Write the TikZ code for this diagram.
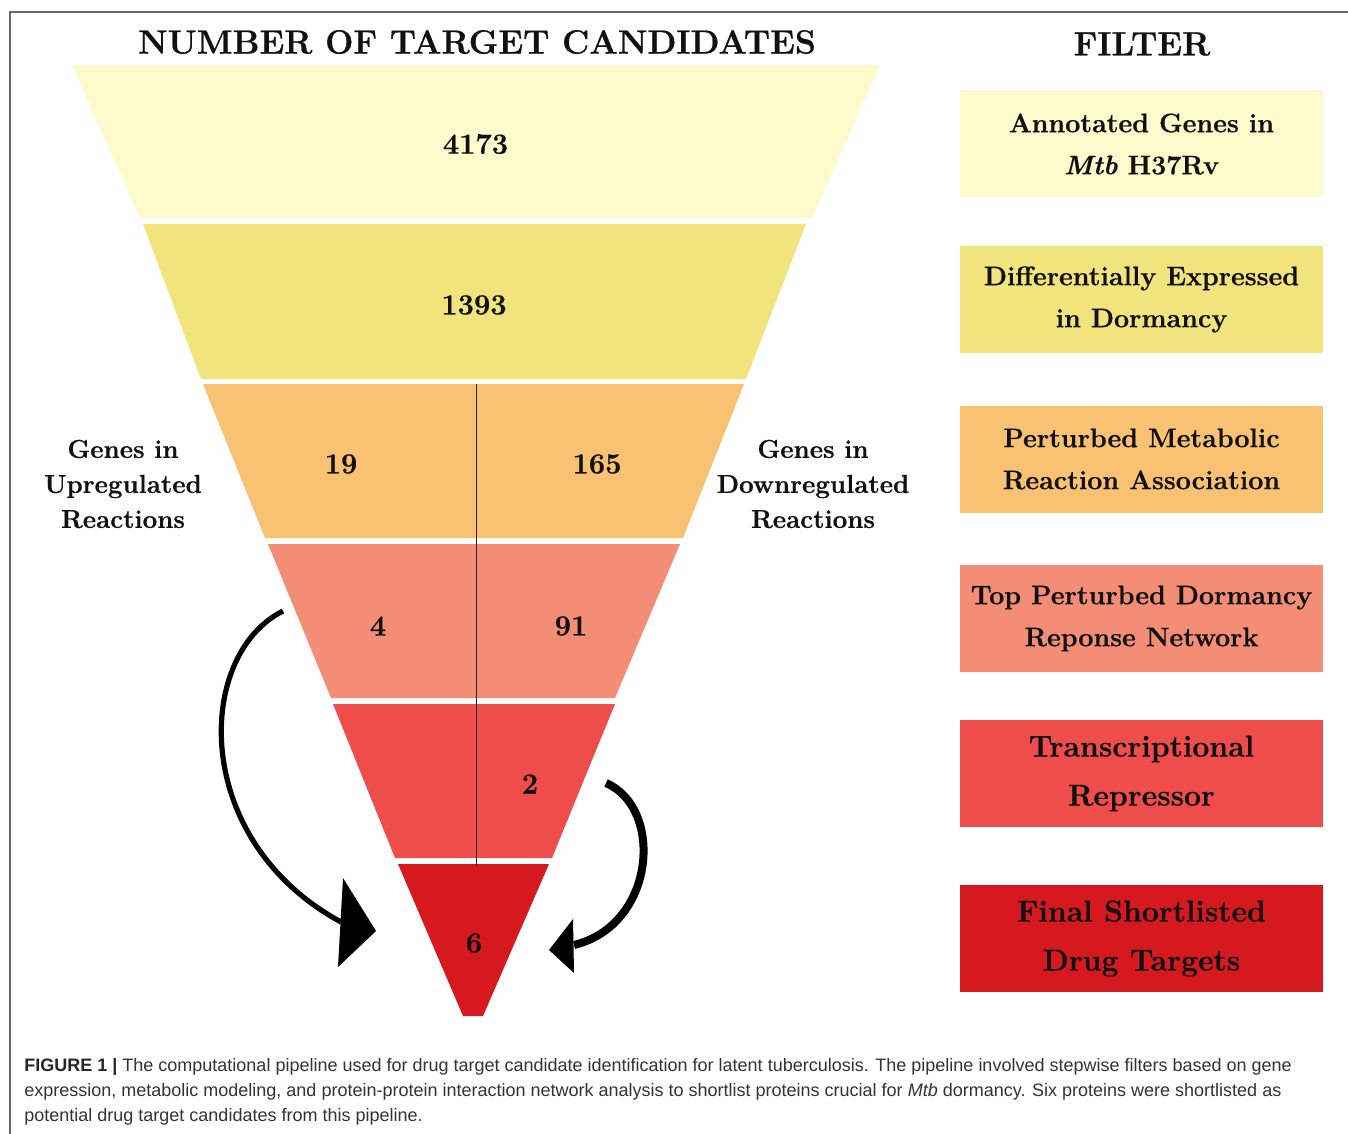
\documentclass[tikz,border=0pt]{standalone}
\usepackage{fontspec}
\setmainfont{Latin Modern Roman}[BoldFeatures={FakeBold=0.6},BoldItalicFeatures={FakeBold=0.6}]
\newfontfamily\capfont{Liberation Sans}
\definecolor{lvA}{HTML}{FDFACB}
\definecolor{lvB}{HTML}{F2E47C}
\definecolor{lvC}{HTML}{F9C272}
\definecolor{lvD}{HTML}{F38D76}
\definecolor{lvE}{HTML}{EF4D4B}
\definecolor{lvF}{HTML}{D5191F}
\definecolor{framegray}{HTML}{666666}
\definecolor{captext}{HTML}{333333}
\definecolor{ink}{HTML}{111111}
\begin{document}
\begin{tikzpicture}[x=0.5pt,y=-0.5pt,
  heading/.style={text=ink,font=\fontsize{16.8}{19}\selectfont\bfseries,inner sep=0pt},
  count/.style={text=ink,font=\fontsize{14.5}{17}\selectfont\bfseries,inner sep=0pt},
  sidelabel/.style={text=ink,align=center,font=\fontsize{12.95}{17.5}\selectfont\bfseries,inner sep=0pt},
  filterbox/.style={minimum width=181.5pt,minimum height=53.5pt,inner sep=0pt,align=center,text=ink,
    font=\fontsize{13.4}{21}\selectfont\bfseries},
  bigfilter/.style={filterbox,font=\fontsize{15.1}{24.5}\selectfont\bfseries},
  captionline/.style={anchor=base west,inner sep=0pt,text=captext,font=\capfont\fontsize{9}{12.5}\selectfont},
  shaft/.style={draw=black,line cap=butt},
  head/.style={fill=black}]
\useasboundingbox (0,0) rectangle (1348,1134);
\fill[white] (0,0) rectangle (1348,1134);

% frame of the figure panel
\draw[framegray,line width=0.8pt] (10,1134) -- (10,12) -- (1348,12);

% headings
\node[heading] (hcount) at (477,42) {NUMBER OF TARGET CANDIDATES};
\node[heading] (hfilter) at (1142,44) {FILTER};

% funnel levels
\fill[lvA] (72,65) -- (880,65) -- (812,218) -- (140,218) -- cycle;
\fill[lvB] (143,224) -- (806,224) -- (746,379) -- (201,379) -- cycle;
\fill[lvC] (203,384) -- (744,384) -- (683,538) -- (265,538) -- cycle;
\fill[lvD] (268,544) -- (680,544) -- (615,698) -- (331,698) -- cycle;
\fill[lvE] (333,704) -- (615,704) -- (552,858) -- (395,858) -- cycle;
\fill[lvF] (398,864) -- (549,864) -- (483,1016) -- (463,1016) -- cycle;

% split between up- and downregulated branches
\coordinate (splittop) at (476.5,384);
\coordinate (splitbot) at (476.5,866);
\draw[black!85,line width=0.75pt] (splittop) -- (splitbot);

% counts
\node[count] (n4173) at (475.5,144) {4173};
\node[count] (n1393) at (474,305) {1393};
\node[count] (n19) at (341,464) {19};
\node[count] (n165) at (597,464) {165};
\node[count] (n4) at (378,626) {4};
\node[count] (n91) at (571,626) {91};
\node[count] (n2) at (530,784) {2};
\node[count] (n6) at (474,943) {6};

% branch labels
\node[sidelabel] (uplabel) at (123,484) {Genes in\\Upregulated\\Reactions};
\node[sidelabel] (downlabel) at (813,484) {Genes in\\Downregulated\\Reactions};

% arrow from the upregulated branch into the final level
\coordinate (upstart) at (283,611);
\coordinate (upbase) at (341,922);
\coordinate (upwingA) at (343,878);
\coordinate (upwingB) at (338,967);
\coordinate (uptip) at (376,931);
\draw[shaft,line width=2.6pt] (upstart) .. controls (195,655) and (190,840) .. (upbase);
\fill[head] (upwingA) -- (uptip) -- (upwingB) -- cycle;

% arrow from the downregulated branch into the final level
\coordinate (downstart) at (606,783);
\coordinate (downbase) at (574,945);
\coordinate (downwingA) at (573,919);
\coordinate (downwingB) at (574,973);
\coordinate (downtip) at (549,950);
\draw[shaft,line width=4pt] (downstart) .. controls (664,808) and (656,925) .. (downbase);
\fill[head] (downwingA) -- (downtip) -- (downwingB) -- cycle;

% filter column
\node[filterbox,fill=lvA] (fA) at (1141.5,144) {Annotated Genes in\\\textit{Mtb} H37Rv};
\node[filterbox,fill=lvB] (fB) at (1141.5,299.5) {Differentially Expressed\\in Dormancy};
\node[filterbox,fill=lvC] (fC) at (1141.5,459) {Perturbed Metabolic\\Reaction Association};
\node[filterbox,fill=lvD] (fD) at (1141.5,618.5) {Top Perturbed Dormancy\\Reponse Network};
\node[bigfilter,fill=lvE] (fE) at (1141.5,773.5) {Transcriptional\\Repressor};
\node[bigfilter,fill=lvF] (fF) at (1141.5,938.5) {Final Shortlisted\\Drug Targets};

% caption
\node[captionline] (capA) at (24,1071) {{\bfseries\color{black!85}FIGURE 1 |} The computational pipeline used for drug target candidate identification for latent tuberculosis. The pipeline involved stepwise filters based on gene};
\node[captionline] (capB) at (24,1096) {expression, metabolic modeling, and protein-protein interaction network analysis to shortlist proteins crucial for \textit{Mtb} dormancy. Six proteins were shortlisted as};
\node[captionline] (capC) at (24,1121) {potential drug target candidates from this pipeline.};
\end{tikzpicture}
\end{document}
